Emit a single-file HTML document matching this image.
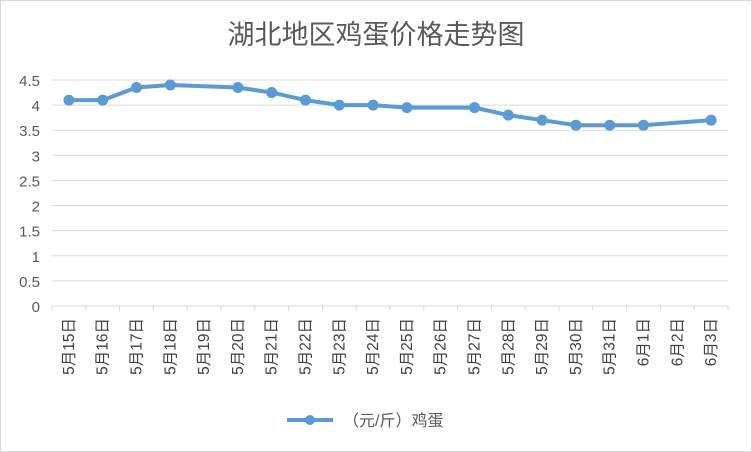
<!DOCTYPE html>
<html><head><meta charset="utf-8"><style>
body{margin:0;background:#fff}
svg{display:block;font-family:"Liberation Sans","Noto Sans CJK SC",sans-serif}
</style></head><body>
<svg id="c" width="752" height="452">
<rect x="0.5" y="0.5" width="751" height="451" fill="#fff" stroke="#d9d9d9"/>
<text x="376" y="44" font-size="27" text-anchor="middle" fill="#595959">湖北地区鸡蛋价格走势图</text>
<g id="grid"></g><g id="ylab"></g><g id="xlab"></g><g id="series"></g>
<g>
<line x1="287" y1="420" x2="333" y2="420" stroke="#5b9bd5" stroke-width="4"/>
<circle cx="310" cy="420" r="5" fill="#5b9bd5"/>
<text x="343" y="426" font-size="16" fill="#595959">（元/斤）鸡蛋</text>
</g>
</svg>
<script>
const categories=["5月15日","5月16日","5月17日","5月18日","5月19日","5月20日","5月21日","5月22日","5月23日","5月24日","5月25日","5月26日","5月27日","5月28日","5月29日","5月30日","5月31日","6月1日","6月2日","6月3日"];
const prices=[4.1,4.1,4.35,4.4,null,4.35,4.25,4.1,4.0,4.0,3.95,null,3.95,3.8,3.7,3.6,3.6,3.6,null,3.7];
const yTicks=[0,0.5,1,1.5,2,2.5,3,3.5,4,4.5];
const X0=52,X1=728,Y0=306,Y1=80,YMAX=4.5;
const NS="http://www.w3.org/2000/svg";
const bw=(X1-X0)/categories.length;
const xs=i=>X0+bw*(i+0.5);
const ys=v=>Y0-(v/YMAX)*(Y0-Y1);
function mk(t,a,p){const e=document.createElementNS(NS,t);for(const k in a)e.setAttribute(k,a[k]);p.appendChild(e);return e;}
const g=document.getElementById('grid'),yl=document.getElementById('ylab'),xl=document.getElementById('xlab'),s=document.getElementById('series');
yTicks.forEach(v=>{
 const l=mk('line',{x1:X0,x2:X1,y1:ys(v),y2:ys(v),stroke:'#d9d9d9','stroke-width':1},g);
 
 
 const t=mk('text',{x:40,y:ys(v)+6,'font-size':15,'text-anchor':'end',fill:'#595959'},yl);
 t.textContent=String(v);
 
 
});
for(let i=0;i<=categories.length;i++){
 const tk=mk('line',{x1:X0+bw*i,x2:X0+bw*i,y1:Y0,y2:Y0+5,stroke:'#d9d9d9'},g);
 
 
}
categories.forEach((c,i)=>{
 const x=xs(i)+5;
 const t=mk('text',{x:x,y:318,'font-size':15.5,'text-anchor':'end',fill:'#404040',transform:`rotate(-90 ${x} 318)`},xl);
 t.textContent=c;
 
 
});
const pts=prices.map((v,i)=>v==null?null:[xs(i),ys(v)]).filter(p=>p);
const pl=mk('polyline',{points:pts.map(p=>p.join(',')).join(' '),fill:'none',stroke:'#5b9bd5','stroke-width':4,'stroke-linejoin':'round'},s);


prices.forEach((v,i)=>{if(v==null)return;
 const c=mk('circle',{cx:xs(i),cy:ys(v),r:5.5,fill:'#5b9bd5'},s);
 
 
});
</script>
</body></html>
